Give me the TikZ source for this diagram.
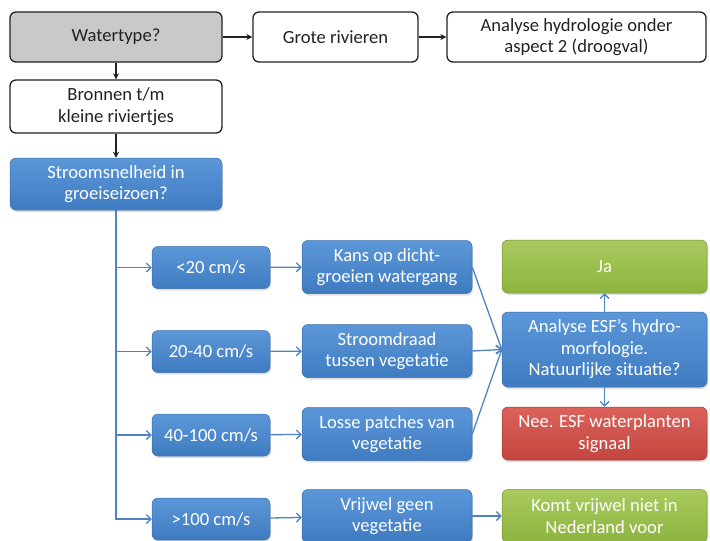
\documentclass[tikz,border=0pt]{standalone}
\usepackage{fontspec}
\setmainfont{Carlito}
\usetikzlibrary{arrows.meta,shadows}
\definecolor{bluetop}{HTML}{5B97D8}
\definecolor{bluebot}{HTML}{3F7BC0}
\definecolor{blueline}{HTML}{3A6EA8}
\definecolor{bluearrow}{HTML}{4F84C4}
\definecolor{greentop}{HTML}{A9CA5E}
\definecolor{greenbot}{HTML}{8DB43F}
\definecolor{redtop}{HTML}{DB625B}
\definecolor{redbot}{HTML}{C4453F}
\definecolor{graybox}{HTML}{C9C9C9}
\definecolor{ink}{HTML}{222222}
\begin{document}
\begin{tikzpicture}[x=1pt,y=-1pt,
  font=\fontsize{18.6}{21.5}\selectfont,
  box/.style={rectangle, rounded corners=6pt, align=center, inner sep=1pt},
  wbox/.style={box, draw=ink, line width=1.3pt, fill=white, text=ink},
  gbox/.style={wbox, fill=graybox},
  bbox/.style={box, draw=blueline, line width=0.5pt, top color=bluetop, bottom color=bluebot, text=white,
    drop shadow={shadow xshift=1pt, shadow yshift=-2pt, opacity=0.25}},
  grbox/.style={bbox, draw=greenbot!80!black, top color=greentop, bottom color=greenbot},
  rbox/.style={bbox, draw=redbot!80!black, top color=redtop, bottom color=redbot},
  blk/.style={draw=ink, line width=1.3pt, -{Stealth[length=6pt,width=6pt]}},
  blu/.style={draw=bluearrow, line width=1.3pt, -{Straight Barb[length=4.5pt,width=9pt]}}
]
\useasboundingbox (0,0) rectangle (710,541);
\clip (0,0) rectangle (710,541);

% top row and first steps
\node[gbox, minimum width=212pt, minimum height=50pt] (wt) at (116,37) {Watertype?};
\node[wbox, minimum width=165pt, minimum height=50pt] (gr) at (335.5,37) {Grote rivieren};
\node[wbox, minimum width=259pt, minimum height=50pt] (ah) at (576.5,37) {Analyse hydrologie onder\\aspect 2 (droogval)};
\node[wbox, minimum width=212pt, minimum height=53pt] (br) at (116,106.5) {Bronnen t/m\\kleine riviertjes};
\node[bbox, minimum width=212pt, minimum height=52pt] (ss) at (116,184) {Stroomsnelheid in\\groeiseizoen?};

% speed classes
\node[bbox, minimum width=118pt, minimum height=42pt] (s1) at (211,267.5) {<20 cm/s};
\node[bbox, minimum width=118pt, minimum height=42pt] (s2) at (211,351.5) {20-40 cm/s};
\node[bbox, minimum width=118pt, minimum height=42pt] (s3) at (211,435) {40-100 cm/s};
\node[bbox, minimum width=118pt, minimum height=42pt] (s4) at (211,519) {>100 cm/s};

% vegetation consequences
\node[bbox, minimum width=170pt, minimum height=53pt] (m1) at (387,267) {Kans op dicht-\\groeien watergang};
\node[bbox, minimum width=170pt, minimum height=53pt] (m2) at (387,351) {Stroomdraad\\tussen vegetatie};
\node[bbox, minimum width=170pt, minimum height=53pt] (m3) at (387,434) {Losse patches van\\vegetatie};
\node[bbox, minimum width=170pt, minimum height=53pt] (m4) at (387,516) {Vrijwel geen\\vegetatie};

% outcomes
\node[grbox, minimum width=205pt, minimum height=53pt] (ja) at (604.5,266.5) {Ja};
\node[bbox, minimum width=205pt, minimum height=75pt] (esf) at (604.5,349.5) {Analyse ESF’s hydro-\\morfologie.\\Natuurlijke situatie?};
\node[rbox, minimum width=205pt, minimum height=53pt] (nee) at (604.5,433.5) {Nee. ESF waterplanten\\signaal};
\node[grbox, minimum width=205pt, minimum height=53pt] (komt) at (604.5,516) {Komt vrijwel niet in\\Nederland voor};

% black connectors
\draw[blk] (wt) -- (gr);
\draw[blk] (gr) -- (ah);
\draw[blk] (wt) -- (br);
\draw[blk] (br) -- (ss);

% trunk with branches to the speed classes
\draw[blu] (ss.south) -- (ss.south |- s4.west) -- (s4.west);
\draw[blu] (ss.south |- s1.west) -- (s1.west);
\draw[blu] (ss.south |- s2.west) -- (s2.west);
\draw[blu] (ss.south |- s3.west) -- (s3.west);

\draw[blu] (s1) -- (m1);
\draw[blu] (s2) -- (m2);
\draw[blu] (s3) -- (m3);
\draw[blu] (s4) -- (m4);

% convergence on the ESF analysis
\coordinate (conv) at (esf.west);
\draw[blu] (m1.east) -- (conv);
\draw[blu] (m2.east) -- (conv);
\draw[blu] (m3.east) -- (conv);

\draw[blu] (esf) -- (ja);
\draw[blu] (esf) -- (nee);
\draw[blu] (m4) -- (komt);
\end{tikzpicture}
\end{document}
